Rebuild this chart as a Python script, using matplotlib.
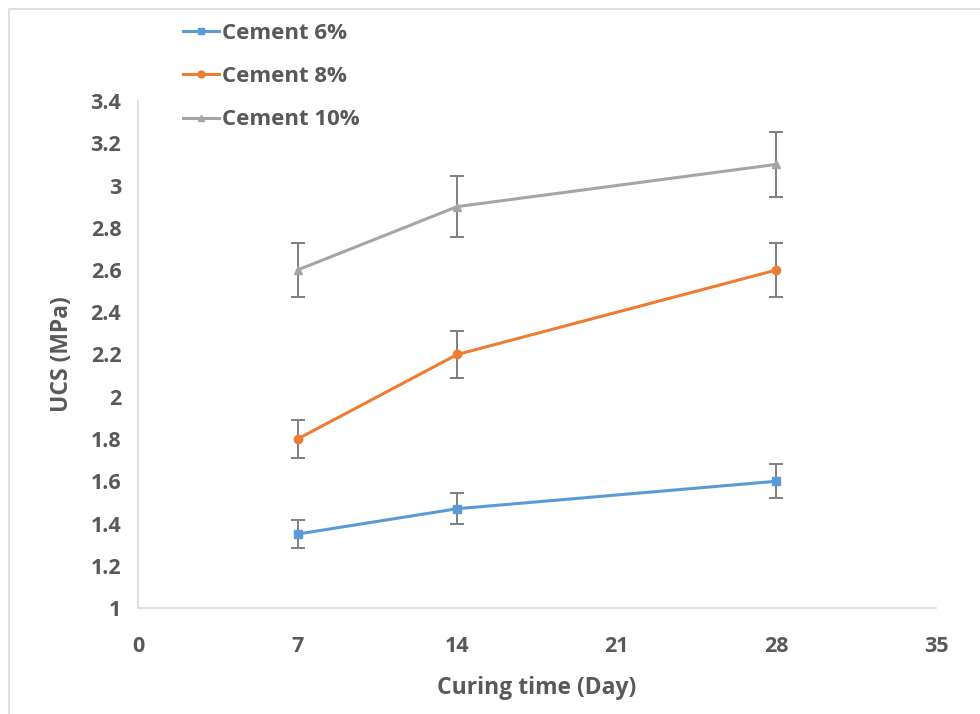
import matplotlib.pyplot as plt
from matplotlib.lines import Line2D

days = [7, 14, 28]
labels = ['Cement 6%', 'Cement 8%', 'Cement 10%']
ucs_6 = [1.35, 1.47, 1.60]
ucs_8 = [1.80, 2.20, 2.60]
ucs_10 = [2.60, 2.90, 3.10]
err_6 = [0.068, 0.074, 0.080]
err_8 = [0.090, 0.110, 0.130]
err_10 = [0.130, 0.145, 0.155]
xticks = [0, 7, 14, 21, 28, 35]
yticks = [1, 1.2, 1.4, 1.6, 1.8, 2, 2.2, 2.4, 2.6, 2.8, 3, 3.2, 3.4]

plt.rcParams['font.family'] = ['Open Sans', 'DejaVu Sans']
plt.rcParams['font.weight'] = 'bold'
txt = '#595959'

fig = plt.figure(figsize=(9.8, 7.14), dpi=100)
ax = fig.add_axes([138/980, 1 - 608/714, (936-138)/980, (608-101)/714])

series = [(ucs_6, err_6, '#5B9BD5', 's', 6), (ucs_8, err_8, '#ED7D31', 'o', 6), (ucs_10, err_10, '#A5A5A5', '^', 6)]
handles = []
for (vals, errs, col, mk, ms), lab in zip(series, labels):
    ax.errorbar(days, vals, yerr=errs, color=col, marker=mk, markersize=ms, lw=2.2,
                ecolor='#7F7F7F', elinewidth=1.4, capsize=5, capthick=1.4, zorder=3)
    handles.append(Line2D([0], [0], color=col, marker=mk, markersize=5, lw=2.2, label=lab))

ax.set_xlim(0, 35)
ax.set_ylim(1, 3.4)
ax.set_xticks(xticks)
ax.set_xticklabels([str(v) for v in xticks], fontweight='bold')
ax.set_yticks(yticks)
ax.set_yticklabels([('%g' % v) for v in yticks], fontweight='bold')
ax.tick_params(length=0, labelsize=15.5, labelcolor=txt)
ax.tick_params(axis='x', pad=20)
ax.tick_params(axis='y', pad=12)
for s in ['top', 'right']:
    ax.spines[s].set_visible(False)
for s in ['left', 'bottom']:
    ax.spines[s].set_color('#D9D9D9')
    ax.spines[s].set_linewidth(1.2)

ax.set_xlabel('Curing time (Day)', fontsize=16.5, fontweight='bold', color=txt, labelpad=14)
ax.set_ylabel('UCS (MPa)', fontsize=16.5, fontweight='bold', color=txt, labelpad=12)

fig.legend(handles=handles, loc='upper left', bbox_to_anchor=(163/980, 1 - 3/714),
           frameon=False, labelcolor=txt, prop={'family': ['Open Sans', 'DejaVu Sans'], 'weight': 'bold', 'size': 16},
           handlelength=1.6, handletextpad=0.15, labelspacing=1.0)

border = plt.Rectangle((9/980, -0.1), 1.1, 1.1 - 9/714, transform=fig.transFigure,
                       fill=False, edgecolor='#D9D9D9', lw=1.2)
fig.patches.append(border)

fig.savefig('out.png', dpi=100)
